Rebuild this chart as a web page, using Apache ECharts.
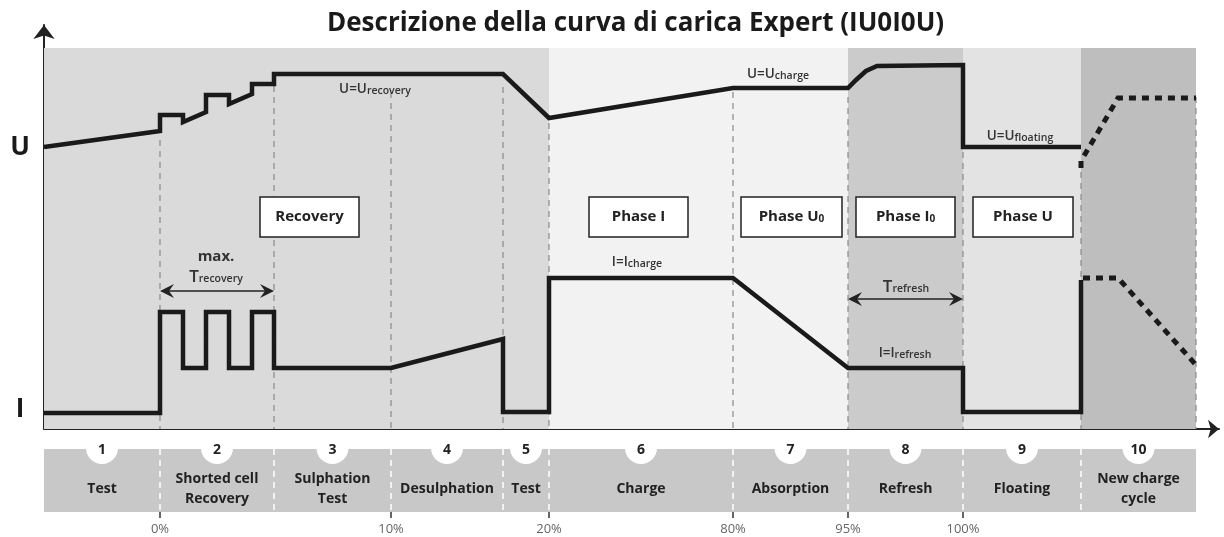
<!DOCTYPE html>
<html><head><meta charset="utf-8">
<script src="https://cdn.jsdelivr.net/npm/echarts@6/dist/echarts.min.js"></script>
<style>html,body{margin:0;padding:0;background:#fff}#c{width:1224px;height:537px}</style>
</head><body><div id="c"></div>
<script>
const FONT = '"Open Sans", "DejaVu Sans", sans-serif';
const titleText = 'Descrizione della curva di carica Expert (IU0I0U)';

// phase boundaries along the (schematic) time axis
const phaseBounds = [0, 116, 230, 347, 459, 505, 689, 804, 919, 1037, 1152];
const phaseNumbers = ['1', '2', '3', '4', '5', '6', '7', '8', '9', '10'];
const phaseNames = ['Test', 'Shorted cell\nRecovery', 'Sulphation\nTest', 'Desulphation', 'Test',
  'Charge', 'Absorption', 'Refresh', 'Floating', 'New charge\ncycle'];
const percentPositions = [116, 347, 505, 689, 804, 919];
const percentLabels = ['0%', '10%', '20%', '80%', '95%', '100%'];
const axisLetterPositions = [19, 281];
const axisLetters = ['I', 'U'];

// voltage curve U
const uSolid = [[0,282],[116,298],[116,314],[139,314],[139,307],[162,317],[162,334],[185,334],[185,325],
  [208,335],[208,345],[230,345],[230,355],[459,355],[505,311],[689,341],[804,341],[812,349],[822,358],
  [833,363],[919,364],[919,282],[1037,282]];
const uDashed = [[1037,261],[1037,268],[1074,331],[1152,331]];
// current curve I
const iSolid = [[0,16],[116,16],[116,117],[139,117],[139,61],[162,61],[162,117],[185,117],[185,61],
  [208,61],[208,117],[230,117],[230,61],[347,61],[459,90],[459,17],[505,17],[505,151],[689,151],
  [804,61],[919,61],[919,17],[1037,17],[1037,149]];
const iDashed = [[1039,151],[1074,151],[1152,64]];

// dashed guide lines: position & top value
const guideX = [116, 230, 347, 459, 505, 689, 804, 919, 1037, 1152];
const guideTop = [289, 343, 337, 342, 306, 337, 332, 277, 257, 332];

// phase boxes
const boxLabels = ['Recovery', 'Phase I', 'Phase U{s|0}', 'Phase I{s|0}', 'Phase U'];
const boxX0 = [216, 545, 697, 812, 929];
const boxX1 = [315, 644, 798, 911, 1029];
const boxY0 = 192, boxY1 = 232;

// annotations
const annotTexts = ['U=U{s|recovery}', 'U=U{s|charge}', 'U=U{s|floating}', 'I=I{s|charge}', 'I=I{s|refresh}',
  '{t|T}{s|refresh}', '{m|max.}', '{t|T}{s|recovery}'];
const annotX = [331, 734, 976, 593, 861, 862, 172, 172];
const annotY = [340, 355, 293, 167, 76, 142, 172, 152];
// double arrows
const arrowX0 = [116, 804];
const arrowX1 = [230, 919];
const arrowY = [138, 130];

const shadeTop = 381;
const phaseShades = ['#dadada', '#dadada', '#dadada', '#dadada', '#dadada', '#f2f2f2', '#f2f2f2', '#cbcbcb', '#e3e3e3', '#bebebe'];

const chart = echarts.init(document.getElementById('c'), null, {renderer: 'canvas'});

function arrowHead(x, y, dir) {
  const L = 14, W = 7, N = 9;
  return {type: 'polygon', shape: {points: [[x, y], [x + dir * L, y - W], [x + dir * N, y], [x + dir * L, y + W]]},
    style: {fill: '#222'}};
}

const option = {
  animation: false,
  backgroundColor: '#fff',
  title: {text: titleText, left: 322, top: 6,
    textStyle: {fontFamily: FONT, fontSize: 26, fontWeight: 'bold', color: '#1a1a1a'}},
  grid: [
    {left: 44, right: 5, top: 25, bottom: 108},
    {left: 44, right: 28, top: 449, bottom: 25}
  ],
  xAxis: [
    {gridIndex: 0, type: 'value', min: 0, max: 1175,
      axisLine: {show: true, symbol: ['none', 'arrow'], symbolSize: [14, 11], lineStyle: {color: '#222', width: 2}},
      axisTick: {show: true, inside: true, length: 4, customValues: phaseBounds.slice(1, 10), lineStyle: {color: '#333', width: 1.5}},
      axisLabel: {show: false}, splitLine: {show: false}},
    {gridIndex: 1, type: 'value', min: 0, max: 1152, position: 'bottom',
      axisLine: {show: false},
      axisTick: {show: true, length: 6, customValues: percentPositions, lineStyle: {color: '#333', width: 1.5}},
      axisLabel: {show: true, customValues: percentPositions, margin: 11, fontSize: 13, color: '#666', fontFamily: FONT,
        formatter: v => percentLabels[percentPositions.indexOf(v)]},
      splitLine: {show: false}}
  ],
  yAxis: [
    {gridIndex: 0, type: 'value', min: 0, max: 404,
      axisLine: {show: true, symbol: ['none', 'arrow'], symbolSize: [16, 14], lineStyle: {color: '#222', width: 2}},
      axisTick: {show: false}, splitLine: {show: false},
      axisLabel: {show: true, customValues: axisLetterPositions, align: 'center', margin: 24, fontSize: 26,
        fontWeight: 'bold', color: '#1a1a1a', fontFamily: FONT,
        formatter: v => axisLetters[axisLetterPositions.indexOf(v)]}},
    {gridIndex: 1, type: 'value', min: 0, max: 63, show: false}
  ],
  series: [
    { // phase shading
      type: 'custom', xAxisIndex: 0, yAxisIndex: 0, z: 1, silent: true,
      data: phaseShades.map((c, i) => [phaseBounds[i], phaseBounds[i + 1], i]),
      renderItem: (params, api) => {
        const p0 = api.coord([api.value(0), shadeTop]);
        const p1 = api.coord([api.value(1), 0]);
        return {type: 'rect', shape: {x: p0[0], y: p0[1], width: p1[0] - p0[0], height: p1[1] - p0[1]},
          style: {fill: phaseShades[api.value(2)]}};
      }
    },
    { // dashed guides
      type: 'custom', xAxisIndex: 0, yAxisIndex: 0, z: 2, silent: true,
      data: guideX.map((x, i) => [x, guideTop[i]]),
      renderItem: (params, api) => {
        const p0 = api.coord([api.value(0), api.value(1)]);
        const p1 = api.coord([api.value(0), 0]);
        return {type: 'line', shape: {x1: p0[0], y1: p0[1], x2: p1[0], y2: p1[1]},
          style: {stroke: '#8a8a8a', lineWidth: 1.2, lineDash: [6, 5]}};
      }
    },
    { // boxes
      type: 'custom', xAxisIndex: 0, yAxisIndex: 0, z: 3, silent: true,
      data: boxLabels.map((t, i) => [boxX0[i], boxX1[i], i]),
      renderItem: (params, api) => {
        const p0 = api.coord([api.value(0), boxY1]);
        const p1 = api.coord([api.value(1), boxY0]);
        return {type: 'group', children: [
          {type: 'rect', shape: {x: p0[0], y: p0[1], width: p1[0] - p0[0], height: p1[1] - p0[1]},
            style: {fill: '#fff', stroke: '#222', lineWidth: 1.5}},
          {type: 'text', style: {text: boxLabels[api.value(2)], x: (p0[0] + p1[0]) / 2, y: (p0[1] + p1[1]) / 2,
            align: 'center', verticalAlign: 'middle', font: 'bold 15px ' + FONT, fill: '#222',
            rich: {s: {font: 'bold 10px ' + FONT, fill: '#222', verticalAlign: 'bottom', padding: [5, 0, 0, 0]}}}}
        ]};
      }
    },
    { // annotations
      type: 'custom', xAxisIndex: 0, yAxisIndex: 0, z: 6, silent: true,
      data: annotTexts.map((t, i) => [annotX[i], annotY[i], i]),
      renderItem: (params, api) => {
        const p = api.coord([api.value(0), api.value(1)]);
        return {type: 'text', style: {text: annotTexts[api.value(2)], x: p[0], y: p[1],
          align: 'center', verticalAlign: 'middle', font: '600 13.5px ' + FONT, fill: '#333',
          rich: {
            s: {font: '600 10.5px ' + FONT, fill: '#333', padding: [4, 0, 0, 0]},
            t: {font: '600 17px ' + FONT, fill: '#333'},
            m: {font: 'bold 15px ' + FONT, fill: '#333'}
          }}};
      }
    },
    { // double arrows
      type: 'custom', xAxisIndex: 0, yAxisIndex: 0, z: 6, silent: true,
      data: arrowX0.map((x, i) => [x, arrowX1[i], arrowY[i]]),
      renderItem: (params, api) => {
        const p0 = api.coord([api.value(0), api.value(2)]);
        const p1 = api.coord([api.value(1), api.value(2)]);
        return {type: 'group', children: [
          {type: 'line', shape: {x1: p0[0] + 6, y1: p0[1], x2: p1[0] - 6, y2: p1[1]}, style: {stroke: '#222', lineWidth: 1.5}},
          arrowHead(p0[0], p0[1], 1), arrowHead(p1[0], p1[1], -1)
        ]};
      }
    },
    {type: 'line', name: 'U', xAxisIndex: 0, yAxisIndex: 0, z: 5, data: uSolid, symbol: 'none', silent: true,
      lineStyle: {color: '#1a1a1a', width: 4.5, join: 'miter', cap: 'butt'}},
    {type: 'line', name: 'U next', xAxisIndex: 0, yAxisIndex: 0, z: 5, data: uDashed, symbol: 'none', silent: true,
      lineStyle: {color: '#1a1a1a', width: 5, type: [7, 6], join: 'miter', cap: 'butt'}},
    {type: 'line', name: 'I', xAxisIndex: 0, yAxisIndex: 0, z: 5, data: iSolid, symbol: 'none', silent: true,
      lineStyle: {color: '#1a1a1a', width: 4.5, join: 'miter', cap: 'butt'}},
    {type: 'line', name: 'I next', xAxisIndex: 0, yAxisIndex: 0, z: 5, data: iDashed, symbol: 'none', silent: true,
      lineStyle: {color: '#1a1a1a', width: 5, type: [7, 6], join: 'miter', cap: 'butt'}},
    { // bottom band
      type: 'custom', xAxisIndex: 1, yAxisIndex: 1, z: 1, silent: true,
      data: phaseNames.map((n, i) => [phaseBounds[i], phaseBounds[i + 1], i]),
      renderItem: (params, api) => {
        const i = api.value(2);
        const p0 = api.coord([api.value(0), 63]);
        const p1 = api.coord([api.value(1), 0]);
        const mid = api.coord([(api.value(0) + api.value(1)) / 2, 64]);
        const txt = api.coord([(api.value(0) + api.value(1)) / 2, 23]);
        const children = [
          {type: 'rect', shape: {x: p0[0], y: p0[1], width: p1[0] - p0[0], height: p1[1] - p0[1]}, style: {fill: '#c8c8c8'}, z2: 0},
          {type: 'circle', shape: {cx: mid[0], cy: mid[1], r: 16}, style: {fill: '#fff'}, z2: 2},
          {type: 'text', style: {text: phaseNumbers[i], x: mid[0], y: mid[1] + 2, align: 'center', verticalAlign: 'middle',
            font: 'bold 14px ' + FONT, fill: '#222'}, z2: 3},
          {type: 'text', style: {text: phaseNames[i], x: txt[0], y: txt[1], align: 'center', verticalAlign: 'middle',
            font: 'bold 14px ' + FONT, fill: '#222', lineHeight: 20}, z2: 3}
        ];
        if (i > 0) {
          children.push({type: 'line', shape: {x1: p0[0], y1: p0[1], x2: p0[0], y2: p1[1]},
            style: {stroke: '#fff', lineWidth: 1.5, lineDash: [6, 5]}, z2: 1});
        }
        return {type: 'group', children};
      }
    }
  ]
};
chart.setOption(option);
</script>
</body></html>
